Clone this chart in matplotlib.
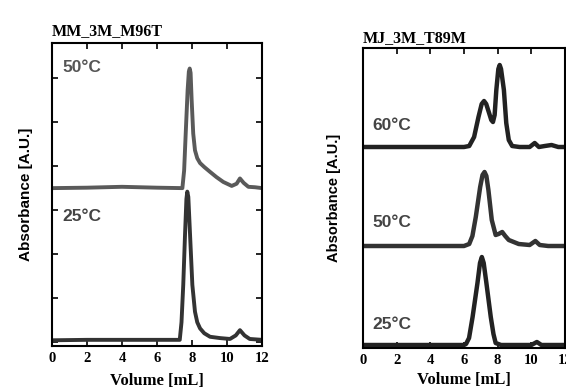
import matplotlib.pyplot as plt

# ---- left panel: MM_3M_M96T ----
mm_vol_50 = [0, 2, 4, 6, 7.45, 7.55, 7.64, 7.75, 7.82, 7.87, 7.92, 7.98, 8.07, 8.17,
             8.3, 8.46, 8.7, 9.03, 9.4, 9.79, 10.27, 10.55, 10.74, 10.95, 11.22, 11.6, 12]
mm_abs_50 = [3.5, 3.51, 3.53, 3.51, 3.5, 3.9, 4.74, 5.73, 6.15, 6.22, 6.12, 5.5, 4.74, 4.36,
             4.18, 4.07, 3.98, 3.87, 3.75, 3.64, 3.55, 3.6, 3.72, 3.62, 3.53, 3.52, 3.5]

mm_vol_25 = [0, 2, 4, 6, 7.3, 7.4, 7.5, 7.6, 7.68, 7.73, 7.79, 7.89, 8.02, 8.17,
             8.3, 8.46, 8.7, 9.03, 9.6, 10.17, 10.5, 10.74, 11.0, 11.3, 12]
mm_abs_25 = [0.04, 0.05, 0.05, 0.05, 0.05, 0.45, 1.3, 2.43, 3.25, 3.42, 3.3, 2.43, 1.3, 0.69,
             0.45, 0.31, 0.2, 0.12, 0.09, 0.07, 0.15, 0.27, 0.15, 0.07, 0.05]

# ---- right panel: MJ_3M_T89M ----
mj_vol_60 = [0, 2, 4, 6, 6.31, 6.6, 6.86, 7.05, 7.19, 7.32, 7.49, 7.62, 7.72, 7.82, 7.92,
             8.04, 8.12, 8.2, 8.37, 8.51, 8.66, 8.86, 9.3, 9.9, 10.2, 10.45, 10.8, 11.2, 11.6, 12]
mj_abs_60 = [2.01, 2.01, 2.01, 2.01, 2.02, 2.11, 2.31, 2.44, 2.47, 2.44, 2.35, 2.28, 2.26, 2.33, 2.58,
             2.79, 2.83, 2.79, 2.58, 2.25, 2.08, 2.02, 2.01, 2.01, 2.05, 2.01, 2.02, 2.03, 2.01, 2.01]

mj_vol_50 = [0, 2, 4, 6, 6.31, 6.5, 6.7, 6.96, 7.1, 7.22, 7.33, 7.45, 7.65, 7.88, 8.05, 8.27,
             8.45, 8.66, 9.25, 9.9, 10.24, 10.5, 11, 12]
mj_abs_50 = [1.02, 1.02, 1.02, 1.02, 1.04, 1.12, 1.31, 1.61, 1.73, 1.76, 1.72, 1.58, 1.28, 1.13, 1.14, 1.16,
             1.12, 1.08, 1.04, 1.03, 1.07, 1.03, 1.02, 1.02]

mj_vol_25 = [0, 2, 4, 6, 6.12, 6.3, 6.51, 6.8, 6.95, 7.06, 7.17, 7.33, 7.59, 7.75, 7.88, 8.2,
             9, 10, 10.33, 10.6, 12]
mj_abs_25 = [0.03, 0.03, 0.03, 0.03, 0.04, 0.1, 0.31, 0.65, 0.85, 0.91, 0.85, 0.65, 0.31, 0.14, 0.05, 0.03,
             0.03, 0.03, 0.06, 0.03, 0.03]

x_ticks = [0, 2, 4, 6, 8, 10, 12]

serif_bold = dict(family='Liberation Serif', weight='bold')
sans_bold = dict(family='Liberation Sans', weight='bold')

fig = plt.figure(figsize=(5.66, 3.9), dpi=100)
W, H = 566.0, 390.0
ax1 = fig.add_axes([52 / W, (H - 346) / H, 210 / W, 303 / H])
ax2 = fig.add_axes([363 / W, (H - 348) / H, 202 / W, 300 / H])

for ax in (ax1, ax2):
    for sp in ax.spines.values():
        sp.set_linewidth(1.5)
    ax.set_xlim(0, 12)
    ax.set_xticks(x_ticks)
    ax.set_xticklabels([str(t) for t in x_ticks], fontdict=dict(size=10.5, **serif_bold))
    ax.tick_params(axis='x', direction='in', top=True, length=4, width=1.2, pad=4)

ax1.set_xlabel('Volume [mL]', fontsize=12, labelpad=6, **serif_bold)
ax2.set_xlabel('Volume [mL]', fontsize=12, labelpad=4, **serif_bold)
ax1.set_ylabel('Absorbance [A.U.]', fontsize=11, labelpad=10, **sans_bold)
ax2.set_ylabel('Absorbance [A.U.]', fontsize=10.5, labelpad=16, **sans_bold)

# left panel
ax1.plot(mm_vol_50, mm_abs_50, color='#5a5a5a', lw=2.8, solid_joinstyle='round')
ax1.plot(mm_vol_25, mm_abs_25, color='#333333', lw=2.8, solid_joinstyle='round')
ax1.set_ylim(-0.09, 6.8)
ax1.set_yticks(range(0, 7))
ax1.set_yticklabels([])
ax1.tick_params(axis='y', direction='in', right=True, length=4, width=1.2)
ax1.text(0.6, 6.15, '50°C', fontsize=12.5, color='#555555', **sans_bold)
ax1.text(0.6, 2.75, '25°C', fontsize=12.5, color='#444444', **sans_bold)
ax1.set_title('MM_3M_M96T', loc='left', fontsize=11.5, pad=6, **serif_bold)

# right panel
ax2.plot(mj_vol_60, mj_abs_60, color='#222222', lw=3.2, solid_joinstyle='round')
ax2.plot(mj_vol_50, mj_abs_50, color='#333333', lw=3.2, solid_joinstyle='round')
ax2.plot(mj_vol_25, mj_abs_25, color='#222222', lw=3.2, solid_joinstyle='round')
ax2.set_ylim(0, 3)
ax2.set_yticks([])
ax2.text(0.55, 2.18, '60°C', fontsize=12.5, color='#444444', **sans_bold)
ax2.text(0.55, 1.21, '50°C', fontsize=12.5, color='#444444', **sans_bold)
ax2.text(0.55, 0.19, '25°C', fontsize=12.5, color='#444444', **sans_bold)
ax2.set_title('MJ_3M_T89M', loc='left', fontsize=11.5, pad=4, **serif_bold)

fig.savefig('out.png', dpi=100)
